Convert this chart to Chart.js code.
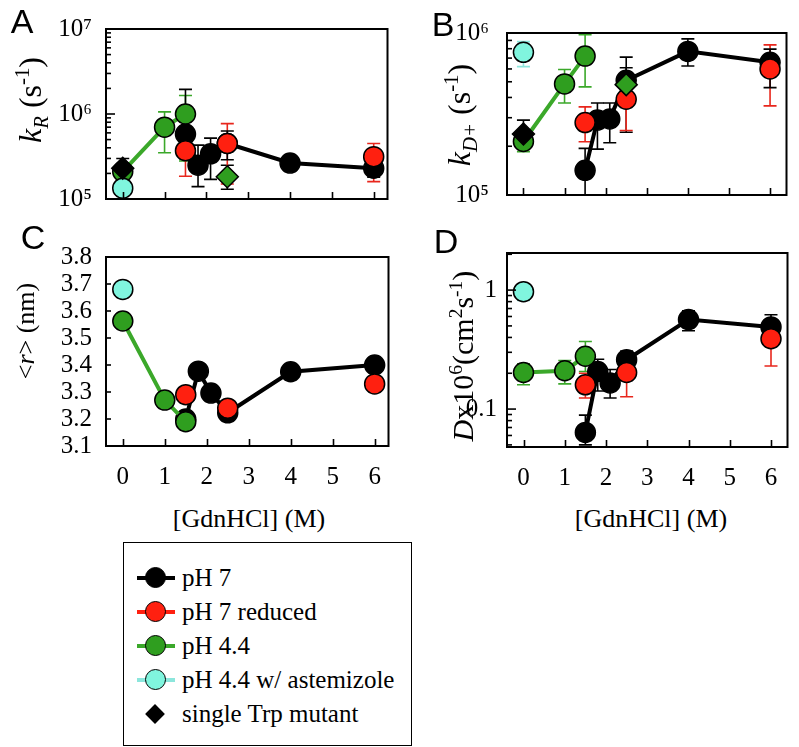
<!DOCTYPE html>
<html>
<head>
<meta charset="utf-8">
<script src="https://cdn.jsdelivr.net/npm/chart.js@4.4.1/dist/chart.umd.min.js"></script>
<style>
  body { margin: 0; background: #fff; }
  #page { position: relative; width: 799px; height: 747px; overflow: hidden; background: #fff;
          font-family: 'Liberation Serif', 'Times New Roman', serif; color: #000; }
  canvas { position: absolute; }
  .letter { position: absolute; transform: translate(-50%, -50%); font-family: 'Liberation Sans', Arial, sans-serif;
            font-size: 34px; line-height: 1; }
  .ytitle { position: absolute; transform: translate(-50%, -50%) rotate(-90deg); white-space: nowrap;
            font-size: 32px; line-height: 1; }
  .xtitle { position: absolute; transform: translate(-50%, -50%); white-space: nowrap; font-size: 26px; line-height: 1; }
  sub, sup { font-size: 65%; line-height: 0; }
  #legend { position: absolute; left: 123px; top: 542px; width: 287px; height: 202px; border: 1.5px solid #000; }
  .lrow { position: absolute; left: 0; width: 100%; height: 0; }
  .lline { position: absolute; left: 13px; width: 38px; height: 4px; top: -2px; }
  .ldot { position: absolute; left: 21px; width: 19px; height: 19px; top: -10.5px; border-radius: 50%; border: 1.5px solid #000; }
  .ldia { position: absolute; left: 24px; width: 14px; height: 14px; top: -7px; background: #000; transform: rotate(45deg); }
  .ltext { position: absolute; left: 58px; top: -15px; font-size: 25px; line-height: 30px; white-space: nowrap; }
</style>
</head>
<body>
<div id="page">
  <canvas id="panelA"></canvas>
  <canvas id="panelB"></canvas>
  <canvas id="panelC"></canvas>
  <canvas id="panelD"></canvas>

  <div class="letter" style="left:22px;top:21px">A</div>
  <div class="letter" style="left:443px;top:24px">B</div>
  <div class="letter" style="left:33px;top:237px">C</div>
  <div class="letter" style="left:446px;top:241px">D</div>

  <div class="ytitle" style="left:30px;top:100px"><i>k</i><sub><i>R</i></sub> (s<sup>-1</sup>)</div>
  <div class="ytitle" style="left:459px;top:115px"><i>k</i><sub><i>D+</i></sub> (s<sup>-1</sup>)</div>
  <div class="ytitle" style="left:26px;top:331px;font-size:26px">&lt;<i>r</i>&gt; (nm)</div>
  <div class="ytitle" style="left:463px;top:356px;font-size:30px"><i>D</i>x10<sup>6</sup>(cm<sup>2</sup>s<sup>-1</sup>)</div>

  <div class="xtitle" style="left:249px;top:519px">[GdnHCl] (M)</div>
  <div class="xtitle" style="left:651px;top:519px">[GdnHCl] (M)</div>

  <div id="legend"></div>
</div>

<script>
// x ticks shared by all panels
const xTicks = [0, 1, 2, 3, 4, 5, 6];

// panel A: k_R (s^-1)
const aBlackX = [1.5, 1.8, 2.1, 2.5, 4, 6];
const aBlackY = [5.8e5, 2.5e5, 3.4e5, 4.5e5, 2.65e5, 2.3e5];
const aBlackHi = [1.95e6, 4.3e5, 5.2e5, 6.3e5, 2.95e5, 2.6e5];
const aBlackLo = [3.0e5, 1.4e5, 1.7e5, 2.9e5, 2.4e5, 1.8e5];
const aRedX = [1.5, 2.5, 6];
const aRedY = [3.7e5, 4.5e5, 3.15e5];
const aRedHi = [5.6e5, 7.7e5, 4.5e5];
const aRedLo = [1.85e5, 1.5e5, 1.6e5];
const aGreenX = [0, 1, 1.5];
const aGreenY = [2.1e5, 7.0e5, 1.0e6];
const aGreenHi = [2.5e5, 1.06e6, 1.65e6];
const aGreenLo = [1.7e5, 3.5e5, 2.8e5];
const aCyanX = [0];
const aCyanY = [1.34e5];
const aDiaBlackX = [0];
const aDiaBlackY = [2.3e5];
const aDiaBlackHi = [3.0e5];
const aDiaBlackLo = [1.6e5];
const aDiaGreenX = [2.5];
const aDiaGreenY = [1.83e5];
const aDiaGreenHi = [2.5e5];
const aDiaGreenLo = [1.3e5];
const aYTicks = [1e5, 2e5, 3e5, 4e5, 5e5, 6e5, 7e5, 8e5, 9e5,
                 1e6, 2e6, 3e6, 4e6, 5e6, 6e6, 7e6, 8e6, 9e6, 1e7];
const aYLabels = { 100000: '10⁵', 1000000: '10⁶', 10000000: '10⁷' };

// panel B: k_D+ (s^-1)
const bBlackX = [1.5, 1.8, 2.1, 2.5, 4, 6];
const bBlackY = [1.42e5, 2.9e5, 2.95e5, 5.1e5, 7.7e5, 6.6e5];
const bBlackHi = [1.94e5, 3.7e5, 3.7e5, 7.1e5, 9.2e5, 7.95e5];
const bBlackLo = [0.9e5, 1.92e5, 2.1e5, 3.8e5, 6.25e5, 4.6e5];
const bRedX = [1.5, 2.5, 6];
const bRedY = [2.8e5, 3.9e5, 6.0e5];
const bRedHi = [3.5e5, 5.4e5, 8.45e5];
const bRedLo = [2.13e5, 2.5e5, 3.55e5];
const bGreenX = [0, 1, 1.5];
const bGreenY = [2.14e5, 4.85e5, 7.2e5];
const bGreenHi = [2.5e5, 5.95e5, 9.75e5];
const bGreenLo = [1.85e5, 3.7e5, 4.65e5];
const bCyanX = [0];
const bCyanY = [7.6e5];
const bCyanHi = [8.85e5];
const bCyanLo = [6.2e5];
const bDiaBlackX = [0];
const bDiaBlackY = [2.38e5];
const bDiaBlackHi = [2.9e5];
const bDiaBlackLo = [1.95e5];
const bDiaGreenX = [2.5];
const bDiaGreenY = [4.8e5];
const bDiaGreenHi = [6.1e5];
const bDiaGreenLo = [2.44e5];
const bYTicks = [1e5, 2e5, 3e5, 4e5, 5e5, 6e5, 7e5, 8e5, 9e5, 1e6];
const bYLabels = { 100000: '10⁵', 1000000: '10⁶' };

// panel C: <r> (nm)
const cBlackX = [1.5, 1.8, 2.1, 2.5, 4, 6];
const cBlackY = [3.2, 3.377, 3.296, 3.223, 3.375, 3.40];
const cRedX = [1.5, 2.5, 6];
const cRedY = [3.29, 3.24, 3.33];
const cGreenX = [0, 1, 1.5];
const cGreenY = [3.563, 3.27, 3.19];
const cCyanX = [0];
const cCyanY = [3.68];
const cYTicks = [3.1, 3.2, 3.3, 3.4, 3.5, 3.6, 3.7, 3.8];

// panel D: D x10^6 (cm^2 s^-1)
const dBlackX = [1.5, 1.8, 2.1, 2.5, 4, 6];
const dBlackY = [0.0636, 0.207, 0.166, 0.26, 0.565, 0.49];
const dBlackHi = [0.089, 0.262, 0.215, 0.307, 0.67, 0.62];
const dBlackLo = [0.05, 0.142, 0.124, 0.22, 0.455, 0.42];
const dRedX = [1.5, 2.5, 6];
const dRedY = [0.16, 0.203, 0.39];
const dRedHi = [0.2, 0.278, 0.54];
const dRedLo = [0.124, 0.127, 0.23];
const dGreenX = [0, 1, 1.5];
const dGreenY = [0.203, 0.21, 0.278];
const dGreenHi = [0.24, 0.256, 0.37];
const dGreenLo = [0.16, 0.163, 0.207];
const dCyanX = [0];
const dCyanY = [0.97];
const dCyanHi = [1.1];
const dCyanLo = [0.82];
const dYTicks = [0.05, 0.06, 0.07, 0.08, 0.09, 0.1, 0.2, 0.3, 0.4, 0.5, 0.6, 0.7, 0.8, 0.9, 1, 2];
const dYLabels = { 0.1: '0.1', 1: '1' };

const legendNames = ['pH 7', 'pH 7 reduced', 'pH 4.4', 'pH 4.4 w/ astemizole', 'single Trp mutant'];

const BLACK = '#000000';
const RED = '#ff2010';
const GREEN = '#2f9e1f';
const GREEN_LINE = '#3ba82a';
const CYAN = '#80f5de';
const CYAN_BAR = '#8ce6dc';

Chart.defaults.font.family = "'Liberation Serif', 'Times New Roman', serif";
Chart.defaults.font.size = 25;
Chart.defaults.color = '#000';

function pts(xs, ys) {
  return xs.map((x, i) => ({ x: x, y: ys[i] }));
}

function series(kind, xs, ys, hi, lo) {
  const base = {
    data: pts(xs, ys),
    pointRadius: 10,
    pointHoverRadius: 10,
    pointBorderWidth: 1.5,
    pointBorderColor: BLACK,
    borderWidth: 4,
    tension: 0,
    showLine: false,
    errHi: hi,
    errLo: lo
  };
  if (kind === 'black') Object.assign(base, { backgroundColor: BLACK, borderColor: BLACK, showLine: true, errColor: BLACK, order: 4 });
  if (kind === 'red') Object.assign(base, { backgroundColor: RED, borderColor: RED, errColor: '#e8261c', order: 3 });
  if (kind === 'green') Object.assign(base, { backgroundColor: GREEN, borderColor: GREEN_LINE, showLine: true, errColor: GREEN_LINE, order: 2 });
  if (kind === 'cyan') Object.assign(base, { backgroundColor: CYAN, borderColor: CYAN, errColor: CYAN_BAR, order: 1 });
  if (kind === 'diaBlack') Object.assign(base, { backgroundColor: BLACK, borderColor: BLACK, pointStyle: 'rectRot', pointRadius: 11, errColor: BLACK, order: 0 });
  if (kind === 'diaGreen') Object.assign(base, { backgroundColor: GREEN, borderColor: GREEN, pointStyle: 'rectRot', pointRadius: 11, errColor: BLACK, order: 0 });
  return base;
}

// error bars under the markers, frame and inward ticks on top
const framePlugin = {
  id: 'frame',
  beforeDatasetsDraw(chart) {
    const { ctx, chartArea: a, scales } = chart;
    ctx.save();
    ctx.beginPath();
    ctx.rect(a.left, a.top, a.right - a.left, a.bottom - a.top);
    ctx.clip();
    chart.data.datasets.forEach(ds => {
      if (!ds.errHi) return;
      ctx.strokeStyle = ds.errColor;
      ctx.lineWidth = 1.6;
      ds.data.forEach((p, j) => {
        const px = scales.x.getPixelForValue(p.x);
        const y1 = scales.y.getPixelForValue(ds.errHi[j]);
        const y2 = scales.y.getPixelForValue(ds.errLo[j]);
        ctx.beginPath();
        ctx.moveTo(px, y1); ctx.lineTo(px, y2);
        ctx.moveTo(px - 6.5, y1); ctx.lineTo(px + 6.5, y1);
        ctx.moveTo(px - 6.5, y2); ctx.lineTo(px + 6.5, y2);
        ctx.stroke();
      });
    });
    ctx.restore();
  },
  afterDraw(chart) {
    const { ctx, chartArea: a, scales } = chart;
    ctx.save();
    ctx.strokeStyle = '#000';
    ctx.lineWidth = 1.6;
    scales.x.ticks.forEach(t => {
      const px = Math.round(scales.x.getPixelForValue(t.value)) + 0.5;
      ctx.beginPath(); ctx.moveTo(px, a.bottom); ctx.lineTo(px, a.bottom - 7); ctx.stroke();
    });
    const isLog = scales.y.type === 'logarithmic';
    scales.y.ticks.forEach(t => {
      const py = scales.y.getPixelForValue(t.value);
      const len = (isLog && t.label !== '') ? 9 : 5;
      ctx.beginPath(); ctx.moveTo(a.left, py); ctx.lineTo(a.left + len, py); ctx.stroke();
    });
    ctx.lineWidth = 2;
    ctx.strokeRect(a.left, a.top, a.right - a.left, a.bottom - a.top);
    ctx.restore();
  }
};

function makePanel(id, pos, area, xRange, yScale, datasets, showXLabels) {
  const cv = document.getElementById(id);
  cv.style.left = pos[0] + 'px';
  cv.style.top = pos[1] + 'px';
  cv.width = pos[2];
  cv.height = pos[3];
  return new Chart(cv, {
    type: 'line',
    data: { datasets: datasets },
    options: {
      responsive: false,
      animation: false,
      layout: { padding: { left: 0, top: area[1] - pos[1], right: pos[0] + pos[2] - area[2], bottom: 0 } },
      plugins: { legend: { display: false }, tooltip: { enabled: false } },
      scales: {
        x: {
          type: 'linear',
          min: xRange[0],
          max: xRange[1],
          afterBuildTicks: s => { s.ticks = xTicks.map(v => ({ value: v })); },
          afterFit: s => { s.height = pos[1] + pos[3] - area[3]; },
          grid: { display: false, drawTicks: false },
          border: { display: false },
          ticks: { display: showXLabels, padding: 16, autoSkip: false, maxRotation: 0 }
        },
        y: Object.assign({
          afterFit: s => { s.width = area[0] - pos[0]; },
          grid: { display: false, drawTicks: false },
          border: { display: false }
        }, yScale)
      }
    },
    plugins: [framePlugin]
  });
}

function logAxis(min, max, ticks, labels, pad) {
  return {
    type: 'logarithmic',
    min: min,
    max: max,
    afterBuildTicks: s => { s.ticks = ticks.map(v => ({ value: v })); },
    ticks: { autoSkip: false, padding: pad, callback: v => labels[v] || '' }
  };
}

makePanel('panelA', [0, 0, 400, 228], [106, 18, 392, 207], [-0.4, 6.33],
  logAxis(1e5, 1e7, aYTicks, aYLabels, 14), [
    series('diaBlack', aDiaBlackX, aDiaBlackY, aDiaBlackHi, aDiaBlackLo),
    series('diaGreen', aDiaGreenX, aDiaGreenY, aDiaGreenHi, aDiaGreenLo),
    series('cyan', aCyanX, aCyanY),
    series('green', aGreenX, aGreenY, aGreenHi, aGreenLo),
    series('red', aRedX, aRedY, aRedHi, aRedLo),
    series('black', aBlackX, aBlackY, aBlackHi, aBlackLo)
  ], false);

makePanel('panelB', [400, 0, 399, 228], [507, 16, 795, 207], [-0.4, 6.4],
  logAxis(1e5, 1e6, bYTicks, bYLabels, 18), [
    series('diaBlack', bDiaBlackX, bDiaBlackY, bDiaBlackHi, bDiaBlackLo),
    series('diaGreen', bDiaGreenX, bDiaGreenY, bDiaGreenHi, bDiaGreenLo),
    series('cyan', bCyanX, bCyanY, bCyanHi, bCyanLo),
    series('green', bGreenX, bGreenY, bGreenHi, bGreenLo),
    series('red', bRedX, bRedY, bRedHi, bRedLo),
    series('black', bBlackX, bBlackY, bBlackHi, bBlackLo)
  ], false);

makePanel('panelC', [0, 228, 400, 262], [106, 254, 392, 446], [-0.4, 6.33], {
    type: 'linear',
    min: 3.1,
    max: 3.8,
    afterBuildTicks: s => { s.ticks = cYTicks.map(v => ({ value: v })); },
    ticks: { autoSkip: false, padding: 14, callback: v => v.toFixed(1) }
  }, [
    series('cyan', cCyanX, cCyanY),
    series('green', cGreenX, cGreenY),
    series('red', cRedX, cRedY),
    series('black', cBlackX, cBlackY)
  ], true);

makePanel('panelD', [400, 228, 399, 262], [507, 253, 795, 447], [-0.4, 6.4],
  logAxis(0.048, 2.05, dYTicks, dYLabels, 10), [
    series('cyan', dCyanX, dCyanY, dCyanHi, dCyanLo),
    series('green', dGreenX, dGreenY, dGreenHi, dGreenLo),
    series('red', dRedX, dRedY, dRedHi, dRedLo),
    series('black', dBlackX, dBlackY, dBlackHi, dBlackLo)
  ], true);

// legend
const legendStyles = [
  { line: BLACK, fill: BLACK },
  { line: RED, fill: RED },
  { line: GREEN_LINE, fill: GREEN },
  { line: CYAN_BAR, fill: CYAN },
  { line: null, fill: null }
];
const legend = document.getElementById('legend');
legendNames.forEach((name, i) => {
  const row = document.createElement('div');
  row.className = 'lrow';
  row.style.top = (34.5 + 34 * i) + 'px';
  const st = legendStyles[i];
  let html = '';
  if (st.line) {
    html += '<div class="lline" style="background:' + st.line + '"></div>';
    html += '<div class="ldot" style="background:' + st.fill + '"></div>';
  } else {
    html += '<div class="ldia"></div>';
  }
  html += '<div class="ltext"></div>';
  row.innerHTML = html;
  row.querySelector('.ltext').textContent = name;
  legend.appendChild(row);
});
</script>
</body>
</html>
